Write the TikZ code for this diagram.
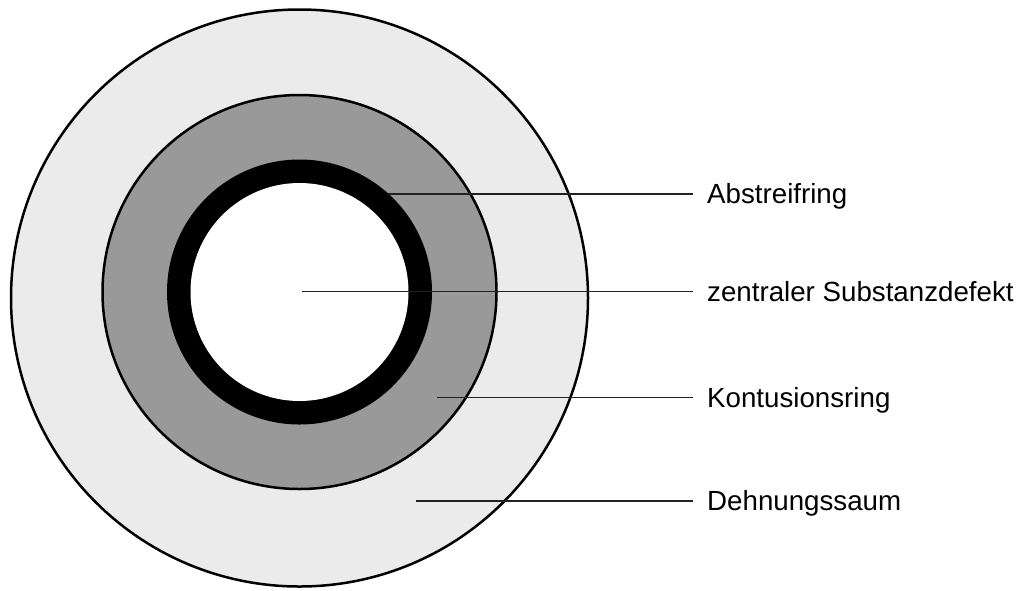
\documentclass[tikz,border=0pt]{standalone}
\usepackage{fontspec}
\setmainfont{Liberation Sans}
\definecolor{outerfill}{HTML}{EBEBEB}
\definecolor{midfill}{HTML}{999999}
\definecolor{leader}{HTML}{222222}
\begin{document}
\begin{tikzpicture}[x=1pt,y=-1pt,
  ringline/.style={draw=black,line width=2.5pt},
  leaderline/.style={draw=leader,line width=1.3pt},
  lab/.style={anchor=base west,inner sep=0pt,font=\fontsize{27.7}{33}\selectfont}]
\useasboundingbox (0,0) rectangle (1019,590);
% rings
\path[ringline,fill=outerfill] (299.5,298) circle[radius=288.5];
\path[ringline,fill=midfill] (299.5,292) circle[radius=197];
\fill[black] (299.5,292) circle[radius=132.5];
\fill[white] (299.5,292) circle[radius=109];
% labels
\node[lab] (l1) at (707,203.8) {Abstreifring};
\node[lab] (l2) at (707,301.5) {zentraler Substanzdefekt};
\node[lab] (l3) at (707,407.6) {Kontusionsring};
\node[lab] (l4) at (707,510.8) {Dehnungssaum};
% leader start points
\coordinate (p1) at (388,194);
\coordinate (p2) at (302,291.7);
\coordinate (p3) at (437,397.8);
\coordinate (p4) at (416,501);
\coordinate (e1) at (693,194);
\coordinate (e2) at (693,291.7);
\coordinate (e3) at (693,397.8);
\coordinate (e4) at (693,501);
\draw[leaderline] (p1) -- (e1);
\draw[leaderline] (p2) -- (e2);
\draw[leaderline] (p3) -- (e3);
\draw[leaderline] (p4) -- (e4);
\end{tikzpicture}
\end{document}
